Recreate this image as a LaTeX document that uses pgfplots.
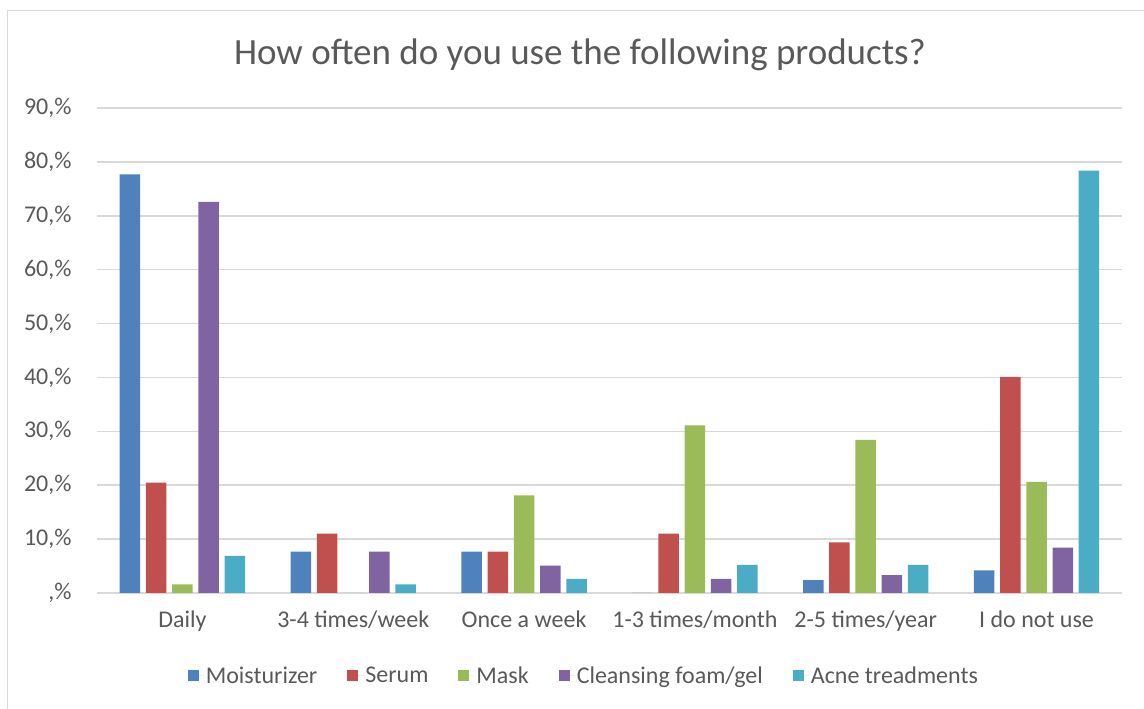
\documentclass[border=0pt]{standalone}
\usepackage{fontspec}
\setmainfont{Carlito}
\usepackage{pgfplots}
\pgfplotsset{compat=1.18}
\definecolor{cMoist}{HTML}{4F81BD}
\definecolor{cSerum}{HTML}{C0504D}
\definecolor{cMask}{HTML}{9BBB59}
\definecolor{cClean}{HTML}{8064A2}
\definecolor{cAcne}{HTML}{4BACC6}
\definecolor{txt}{HTML}{595959}
\definecolor{gridc}{HTML}{D9D9D9}
\begin{document}
\begin{tikzpicture}[x=1pt,y=1pt]
\path[use as bounding box] (0,0) rectangle (1144,709);
\draw[gridc,line width=1.5pt] (7.5,0) -- (7.5,698.5) -- (1144,698.5);
\node[txt,font=\fontsize{37}{42}\selectfont] at (580,654) {How often do you use the following products?};
\begin{axis}[
  at={(182.42pt,116pt)}, anchor=origin,
  scale only axis, width=1025pt, height=485pt,
  xmin=-0.5, xmax=5.5, ymin=0, ymax=90,
  xtick={0,1,2,3,4,5},
  xticklabels={Daily,3-4 times/week,Once a week,1-3 times/month,2-5 times/year,I do not use},
  ytick={0,10,20,30,40,50,60,70,80,90},
  yticklabels={{,\%},{10,\%},{20,\%},{30,\%},{40,\%},{50,\%},{60,\%},{70,\%},{80,\%},{90,\%}},
  ymajorgrids, grid style={gridc,line width=1.5pt},
  axis line style={draw=none},
  major tick length=0pt,
  tick label style={txt,font=\fontsize{24}{28}\selectfont},
  yticklabel style={xshift=-22pt},
  xticklabel style={yshift=-14pt},
  legend style={draw=none, fill=none, at={(0.475,-0.171)}, anchor=center,
    legend columns=5, font=\fontsize{24}{28}\selectfont, text=txt,
    /tikz/every even column/.append style={column sep=28pt}},
  legend image code/.code={\fill[#1] (0pt,-5pt) rectangle (11pt,6pt); \path (0pt,0pt) -- (16pt,0pt);},
  legend cell align=left,
]
\addplot[ybar, fill=cMoist, draw=none, bar width=0.12, bar shift=-0.307] coordinates {(0,77.7) (1,7.7) (2,7.7) (3,0) (4,2.4) (5,4.2)};
\addlegendentry{Moisturizer}
\addplot[ybar, fill=cSerum, draw=none, bar width=0.12, bar shift=-0.1535] coordinates {(0,20.5) (1,11.0) (2,7.7) (3,11.0) (4,9.4) (5,40.1)};
\addlegendentry{Serum}
\addplot[ybar, fill=cMask, draw=none, bar width=0.12, bar shift=0] coordinates {(0,1.6) (1,0) (2,18.1) (3,31.1) (4,28.4) (5,20.6)};
\addlegendentry{Mask}
\addplot[ybar, fill=cClean, draw=none, bar width=0.12, bar shift=0.1535] coordinates {(0,72.6) (1,7.7) (2,5.1) (3,2.6) (4,3.3) (5,8.4)};
\addlegendentry{Cleansing foam/gel}
\addplot[ybar, fill=cAcne, draw=none, bar width=0.12, bar shift=0.307] coordinates {(0,6.9) (1,1.6) (2,2.6) (3,5.2) (4,5.2) (5,78.4)};
\addlegendentry{Acne treadments}
\end{axis}
\end{tikzpicture}
\end{document}
